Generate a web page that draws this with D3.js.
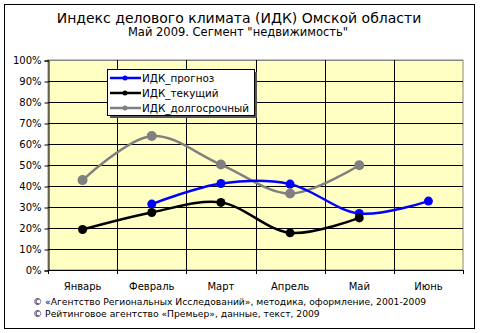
<!DOCTYPE html>
<html>
<head>
<meta charset="utf-8">
<script src="https://cdn.jsdelivr.net/npm/d3@7"></script>
<style>
  html, body { margin: 0; padding: 0; background: #fff; }
  svg { display: block; font-family: "DejaVu Sans", Verdana, sans-serif; }
</style>
</head>
<body>
<svg id="chart" width="480" height="333"></svg>
<script>
// Months on the category axis
const months = ["Январь", "Февраль", "Март", "Апрель", "Май", "Июнь"];

// Index values, percent (null = no observation)
const forecast = [null, 31.4, 41.2, 40.9, 26.9, 32.8];
const current = [19.3, 27.4, 32.2, 17.7, 24.8, null];
const longTerm = [42.8, 63.8, 50.2, 36.4, 49.9, null];

const yTicks = [0, 10, 20, 30, 40, 50, 60, 70, 80, 90, 100];

const seriesNames = ["ИДК_прогноз", "ИДК_текущий", "ИДК_долгосрочный"];
const seriesColors = ["#0000ff", "#000000", "#808080"];

const titleText = "Индекс делового климата (ИДК) Омской области";
const subtitleText = "Май 2009. Сегмент \"недвижимость\"";
const footer = [
  "© «Агентство Региональных Исследований», методика, оформление, 2001-2009",
  "© Рейтинговое агентство «Премьер», данные, текст, 2009"
];

const svg = d3.select("#chart");

// outer frame
svg.append("rect").attr("x", 4.5).attr("y", 4.5).attr("width", 470).attr("height", 324)
  .attr("fill", "#fff").attr("stroke", "#000").attr("stroke-width", 1);

svg.append("text").attr("x", 239).attr("y", 23).attr("text-anchor", "middle")
  .attr("font-size", 14).attr("fill", "#000").text(titleText);
svg.append("text").attr("x", 238).attr("y", 36).attr("text-anchor", "middle")
  .attr("font-size", 11.5).attr("fill", "#000").text(subtitleText);

const plot = { left: 48, right: 463, top: 60, bottom: 270 };

const x = d3.scaleBand().domain(months).range([plot.left, plot.right]).padding(0);
const y = d3.scaleLinear().domain([0, 100]).range([plot.bottom, plot.top]);

// plot background
svg.append("rect").attr("x", plot.left).attr("y", plot.top)
  .attr("width", plot.right - plot.left).attr("height", plot.bottom - plot.top)
  .attr("fill", "#ffffc4").attr("stroke", "#888").attr("stroke-width", 1);

// horizontal grid
svg.append("g").selectAll("line").data(yTicks.filter(t => t > 0)).join("line")
  .attr("x1", plot.left).attr("x2", plot.right)
  .attr("y1", d => Math.round(y(d)) + 0.5).attr("y2", d => Math.round(y(d)) + 0.5)
  .attr("stroke", d => d === 100 ? "#888" : "#000").attr("stroke-width", 1);

// vertical grid at category boundaries
const bounds = months.slice(1).map(m => x(m));
svg.append("g").selectAll("line").data(bounds).join("line")
  .attr("x1", d => Math.round(d) + 0.5).attr("x2", d => Math.round(d) + 0.5)
  .attr("y1", plot.top).attr("y2", plot.bottom)
  .attr("stroke", "#000").attr("stroke-width", 1);

// y axis
const yAxis = d3.axisLeft(y).tickValues(yTicks).tickFormat(d => d + "%").tickSize(4).tickPadding(3);
const gy = svg.append("g").attr("transform", `translate(${plot.left + 0.5},0.5)`).call(yAxis);
gy.select(".domain").attr("stroke", "#000");
gy.selectAll("text").attr("font-size", 10).attr("font-family", "DejaVu Sans, Verdana, sans-serif").attr("fill", "#000");

// x axis with ticks on category boundaries
const xAxis = d3.axisBottom(x).tickSize(0).tickPadding(9);
const gx = svg.append("g").attr("transform", `translate(0,${plot.bottom + 0.5})`).call(xAxis);
gx.select(".domain").attr("stroke", "#000").attr("d", `M${plot.left},0H${plot.right}`);
gx.selectAll("text").attr("font-size", 10).attr("font-family", "DejaVu Sans, Verdana, sans-serif").attr("fill", "#000")
  .attr("transform", "translate(0,3)");
svg.append("g").selectAll("line").data([plot.left, ...bounds, plot.right]).join("line")
  .attr("x1", d => Math.round(d) + 0.5).attr("x2", d => Math.round(d) + 0.5)
  .attr("y1", plot.bottom).attr("y2", plot.bottom + 4)
  .attr("stroke", "#000");

// series
const seriesData = [forecast, current, longTerm];
const cx = i => x(months[i]) + x.bandwidth() / 2;
const line = d3.line()
  .defined(d => d.v != null)
  .x(d => cx(d.i)).y(d => y(d.v))
  .curve(d3.curveCatmullRom.alpha(0.5));

// draw in back-to-front order: long term, forecast, current
[2, 0, 1].forEach(s => {
  const pts = seriesData[s].map((v, i) => ({ v, i })).filter(d => d.v != null);
  svg.append("path").datum(pts).attr("d", line)
    .attr("fill", "none").attr("stroke", seriesColors[s]).attr("stroke-width", 2.5);
  svg.append("g").selectAll("circle").data(pts).join("circle")
    .attr("cx", d => cx(d.i)).attr("cy", d => y(d.v)).attr("r", s === 2 ? 5 : 4.5)
    .attr("fill", seriesColors[s]);
});

// legend
const lg = svg.append("g");
lg.append("rect").attr("x", 110).attr("y", 72).attr("width", 147).attr("height", 46).attr("fill", "#555");
lg.append("rect").attr("x", 107.5).attr("y", 69.5).attr("width", 147).attr("height", 46)
  .attr("fill", "#fff").attr("stroke", "#000");
seriesNames.forEach((n, k) => {
  const yy = 78 + k * 15;
  lg.append("line").attr("x1", 110).attr("x2", 141).attr("y1", yy).attr("y2", yy)
    .attr("stroke", seriesColors[k]).attr("stroke-width", 2.5);
  lg.append("circle").attr("cx", 125).attr("cy", yy).attr("r", 2.5).attr("fill", seriesColors[k]);
  lg.append("text").attr("x", 142).attr("y", yy + 4).attr("font-size", 10.4).attr("fill", "#000").text(n);
});

// footer
footer.forEach((t, k) => {
  svg.append("text").attr("x", 33).attr("y", 305 + k * 12).attr("font-size", 9.2)
    .attr("fill", "#000").text(t);
});
</script>
</body>
</html>
